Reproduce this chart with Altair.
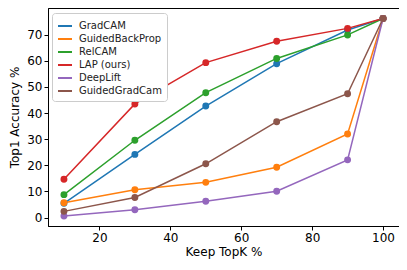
import altair as alt
import pandas as pd

keep = [10, 30, 50, 70, 90, 100]
methods = ["GradCAM", "GuidedBackProp", "RelCAM", "LAP (ours)", "DeepLift", "GuidedGradCam"]
colors = ["#1f77b4", "#ff7f0e", "#2ca02c", "#d62728", "#9467bd", "#8c564b"]
gradcam = [5.5, 24.2, 42.7, 58.9, 71.8, 76.2]
guidedbp = [5.7, 10.7, 13.5, 19.3, 32.0, 76.2]
relcam = [8.8, 29.6, 47.8, 60.9, 69.9, 76.2]
lap = [14.7, 43.5, 59.3, 67.5, 72.4, 76.2]
deeplift = [0.6, 3.0, 6.3, 10.1, 22.1, 76.2]
guidedgc = [2.4, 7.7, 20.6, 36.7, 47.4, 76.2]

series = [gradcam, guidedbp, relcam, lap, deeplift, guidedgc]
rows = []
for i, (m, vals) in enumerate(zip(methods, series)):
    for k, v in zip(keep, vals):
        rows.append({"method": m, "order": i, "k": k, "acc": v})
df = pd.DataFrame(rows)

x = alt.X("k:Q", title="Keep TopK %", scale=alt.Scale(domain=[5.5, 104.5], nice=False, zero=False),
          axis=alt.Axis(values=[20, 40, 60, 80, 100], grid=False))
y = alt.Y("acc:Q", title="Top1 Accuracy %", scale=alt.Scale(domain=[-3.2, 80.2], nice=False, zero=False),
          axis=alt.Axis(values=[0, 10, 20, 30, 40, 50, 60, 70], grid=False))
color = alt.Color("method:N", scale=alt.Scale(domain=methods, range=colors), sort=methods,
                  legend=alt.Legend(title=None, orient="none", legendX=4, legendY=5,
                                    symbolType="stroke", symbolStrokeWidth=2, symbolSize=196,
                                    labelFontSize=10, labelFont="DejaVu Sans", rowPadding=0,
                                    fillColor="white", strokeColor="#cccccc", padding=5,
                                    cornerRadius=3, labelColor="#222", labelOffset=6))

base = alt.Chart(df)
lines = base.mark_line(strokeWidth=1.5).encode(x=x, y=y, color=color, detail="method:N",
                                               order=alt.Order("k:Q"))
points = base.mark_circle(size=48, opacity=1).encode(x=x, y=y, color=alt.Color("method:N", scale=alt.Scale(domain=methods, range=colors), legend=None))

chart = alt.layer(lines, points).properties(
    width=351, height=218,
    autosize=alt.AutoSizeParams(type="none"),
    padding={"left": 40, "top": 0, "right": 0, "bottom": 44},
).configure_view(stroke="black", strokeWidth=1).configure_axis(
    labelFont="DejaVu Sans", titleFont="DejaVu Sans", labelFontSize=12, titleFontSize=12,
    titleFontWeight="normal", domainColor="black", tickColor="black", labelColor="black",
    titleColor="black", tickSize=4, labelPadding=2
).configure_axisY(titlePadding=5).configure_axisX(titlePadding=3)

chart.save("out.html", embed_options={"renderer": "svg", "actions": False})
